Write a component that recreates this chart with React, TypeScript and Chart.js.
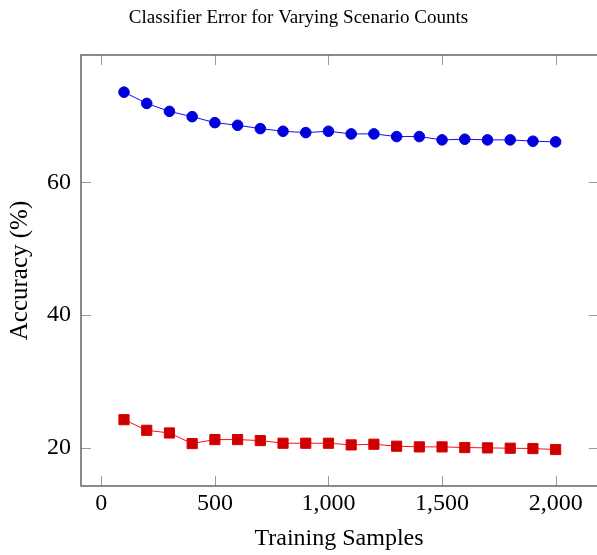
import React, { useEffect, useRef } from "react";
import { Chart, registerables } from "chart.js";

Chart.register(...registerables);

const samples = [100, 200, 300, 400, 500, 600, 700, 800, 900, 1000, 1100, 1200, 1300, 1400, 1500, 1600, 1700, 1800, 1900, 2000];
const blueSeries = [73.6, 71.9, 70.7, 69.9, 69.0, 68.6, 68.1, 67.7, 67.5, 67.7, 67.3, 67.3, 66.9, 66.9, 66.4, 66.5, 66.4, 66.4, 66.2, 66.1];
const redSeries = [24.2, 22.6, 22.2, 20.6, 21.2, 21.2, 21.05, 20.65, 20.65, 20.65, 20.4, 20.5, 20.2, 20.1, 20.1, 20.0, 19.95, 19.9, 19.85, 19.7];
const xTicks = [0, 500, 1000, 1500, 2000];
const yTicks = [20, 40, 60];
const xFrameMax = 2190; // the plot frame extends just past the visible canvas edge

const titleText = "Classifier Error for Varying Scenario Counts";
const xLabel = "Training Samples";
const yLabel = "Accuracy (%)";

const FONT = "'Liberation Serif', 'Times New Roman', serif";

const framePlugin = {
  id: "frame",
  afterDraw(chart: any) {
    const { ctx, chartArea } = chart;
    const xs = chart.scales.x;
    const ys = chart.scales.y;
    const { left, top, bottom } = chartArea;
    const right = xs.getPixelForValue(xFrameMax);
    ctx.save();
    ctx.strokeStyle = "#9a9a9a";
    ctx.lineWidth = 1;
    const tl = 10;
    ctx.beginPath();
    xTicks.forEach((v) => {
      const px = Math.round(xs.getPixelForValue(v)) + 0.5;
      ctx.moveTo(px, bottom);
      ctx.lineTo(px, bottom - tl);
      ctx.moveTo(px, top);
      ctx.lineTo(px, top + tl);
    });
    yTicks.forEach((v) => {
      const py = Math.round(ys.getPixelForValue(v)) + 0.5;
      ctx.moveTo(left, py);
      ctx.lineTo(left + tl, py);
      ctx.moveTo(right, py);
      ctx.lineTo(right - tl, py);
    });
    ctx.stroke();
    ctx.strokeStyle = "#5a5a5a";
    ctx.lineWidth = 1.4;
    ctx.strokeRect(left, top, right - left, bottom - top);
    ctx.restore();
  },
};

export default function App() {
  const canvasRef = useRef<HTMLCanvasElement | null>(null);

  useEffect(() => {
    if (!canvasRef.current) return;
    const chart = new Chart(canvasRef.current, {
      type: "line",
      data: {
        datasets: [
          {
            label: "Scenario A",
            data: samples.map((x, i) => ({ x, y: blueSeries[i] })),
            borderColor: "#1010f0",
            borderWidth: 1,
            backgroundColor: "#0000dd",
            pointBackgroundColor: "#0000dd",
            pointBorderColor: "#0000dd",
            pointBorderWidth: 1,
            pointStyle: "circle",
            pointRadius: 5.3,
          },
          {
            label: "Scenario B",
            data: samples.map((x, i) => ({ x, y: redSeries[i] })),
            borderColor: "#ff1010",
            borderWidth: 1,
            backgroundColor: "#cc0000",
            pointBackgroundColor: "#cc0000",
            pointBorderColor: "#dd0000",
            pointBorderWidth: 1,
            pointStyle: "rect",
            pointRadius: 7.2,
          },
        ],
      },
      options: {
        responsive: false,
        animation: false,
        events: [],
        layout: { autoPadding: false, padding: { left: 0, right: 0, top: 0, bottom: 0 } },
        plugins: {
          legend: { display: false },
          tooltip: { enabled: false },
          title: {
            display: true,
            text: titleText,
            color: "#000",
            font: { family: FONT, size: 19, weight: "normal" },
            padding: { top: 7, bottom: 25.2 },
          },
        },
        scales: {
          x: {
            type: "linear",
            min: -89.3,
            max: 2182,
            offset: false,
            grid: { display: false, drawTicks: false },
            border: { display: false },
            afterBuildTicks: (scale: any) => {
              scale.ticks = xTicks.map((v) => ({ value: v }));
            },
            afterFit: (scale: any) => {
              scale.height = 69;
              scale.paddingLeft = 0;
              scale.paddingRight = 0;
            },
            ticks: {
              color: "#000",
              padding: 3,
              maxRotation: 0,
              font: { family: FONT, size: 24 },
              callback: (v: any) => Number(v).toLocaleString("en-US"),
            },
            title: {
              display: true,
              text: xLabel,
              color: "#000",
              font: { family: FONT, size: 24 },
              padding: { top: 0, bottom: 2 },
            },
          },
          y: {
            type: "linear",
            min: 14.2,
            max: 79.2,
            grid: { display: false, drawTicks: false },
            border: { display: false },
            afterBuildTicks: (scale: any) => {
              scale.ticks = yTicks.map((v) => ({ value: v }));
            },
            afterFit: (scale: any) => {
              scale.width = 81;
              scale.paddingTop = 0;
              scale.paddingBottom = 0;
            },
            ticks: {
              color: "#000",
              padding: 10,
              font: { family: FONT, size: 24 },
            },
            title: {
              display: true,
              text: yLabel,
              color: "#000",
              font: { family: FONT, size: 25 },
              padding: { top: 5, bottom: 0 },
            },
          },
        },
      },
      plugins: [framePlugin],
    } as any);
    return () => chart.destroy();
  }, []);

  return (
    <div style={{ position: "fixed", left: 0, top: 0, width: 597, height: 555, background: "#fff" }}>
      <canvas ref={canvasRef} width={597} height={555} />
    </div>
  );
}
